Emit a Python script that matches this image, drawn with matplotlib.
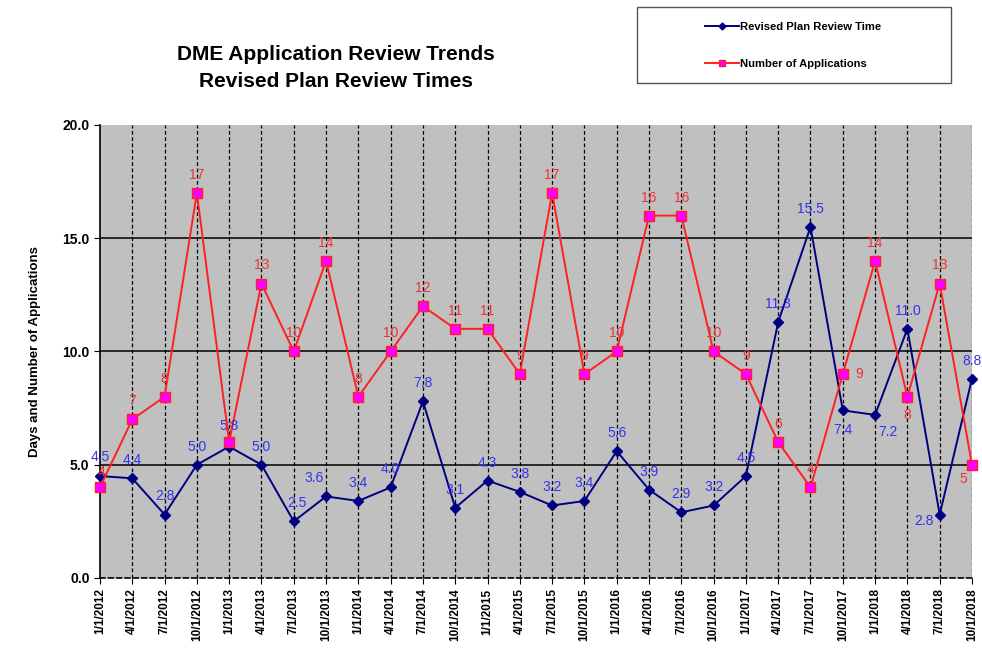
import numpy as np
import matplotlib
matplotlib.use('Agg')
import matplotlib.pyplot as plt
from matplotlib.patches import Rectangle

plt.rcParams['font.family'] = ['Liberation Sans', 'DejaVu Sans']

dates = ['1/1/2012', '4/1/2012', '7/1/2012', '10/1/2012',
         '1/1/2013', '4/1/2013', '7/1/2013', '10/1/2013',
         '1/1/2014', '4/1/2014', '7/1/2014', '10/1/2014',
         '1/1/2015', '4/1/2015', '7/1/2015', '10/1/2015',
         '1/1/2016', '4/1/2016', '7/1/2016', '10/1/2016',
         '1/1/2017', '4/1/2017', '7/1/2017', '10/1/2017',
         '1/1/2018', '4/1/2018', '7/1/2018', '10/1/2018']
review_time = [4.5, 4.4, 2.8, 5.0, 5.8, 5.0, 2.5, 3.6, 3.4, 4.0, 7.8, 3.1, 4.3, 3.8,
               3.2, 3.4, 5.6, 3.9, 2.9, 3.2, 4.5, 11.3, 15.5, 7.4, 7.2, 11.0, 2.8, 8.8]
applications = [4, 7, 8, 17, 6, 13, 10, 14, 8, 10, 12, 11, 11, 9,
                17, 9, 10, 16, 16, 10, 9, 6, 4, 9, 14, 8, 13, 5]

# label offsets in points (default: above the marker)
blue_off = {0: (0, 14), 4: (0, 15), 6: (2, 13), 7: (-9, 13), 23: (0, -14),
            24: (9, -12), 26: (-11, -5)}
red_off = {0: (1, 11), 4: (-1, 10), 23: (12, 0), 25: (0, -13), 27: (-6, -10)}

x = np.arange(len(dates))

fig = plt.figure(figsize=(9.82, 6.53), dpi=100)
ax = fig.add_axes([0.1018, 0.1149, 0.888, 0.6937])
ax.set_facecolor('#C0C0C0')

ax.set_xlim(0, len(dates) - 1)
ax.set_ylim(0, 20)
ax.set_yticks([0, 5, 10, 15, 20])
ax.set_yticklabels(['%.1f' % v for v in [0, 5, 10, 15, 20]], fontsize=10, fontweight='bold')
ax.set_xticks(x)
ax.set_xticklabels(dates, rotation=90, fontsize=8.5, fontweight='bold')
ax.tick_params(axis='both', direction='out', length=4, color='black')

for xi in x[1:]:
    ax.axvline(xi, color='black', lw=0.9, ls=(0, (3, 2)), zorder=1)
for yv in [5, 10, 15]:
    ax.axhline(yv, color='black', lw=1.1, zorder=1)

for s in ['top', 'right']:
    ax.spines[s].set_visible(False)
ax.spines['left'].set_linewidth(1.2)
ax.spines['bottom'].set_linestyle((0, (3, 2)))
ax.spines['bottom'].set_linewidth(1.2)

ax.plot(x, review_time, color='#000080', lw=1.4, marker='D', ms=5,
        mfc='#000080', mec='#000080', label='Revised Plan Review Time',
        zorder=3, clip_on=False)
ax.plot(x, applications, color='#FF2020', lw=1.4, marker='s', ms=7,
        mfc='#FF00FF', mec='#FF2020', label='Number of Applications',
        zorder=4, clip_on=False)

for i, v in enumerate(review_time):
    dx, dy = blue_off.get(i, (0, 13))
    ax.annotate('%.1f' % v, (x[i], v), xytext=(dx, dy), textcoords='offset points',
                ha='center', va='center', fontsize=10, color='#3333EE', zorder=5)
for i, v in enumerate(applications):
    dx, dy = red_off.get(i, (0, 13))
    ax.annotate('%d' % v, (x[i], v), xytext=(dx, dy), textcoords='offset points',
                ha='center', va='center', fontsize=10, color='#EE3333', zorder=5)

ax.set_ylabel('Days and Number of Applications', fontsize=9.5, fontweight='bold', labelpad=15)

fig.text(0.342, 0.896, 'DME Application Review Trends\nRevised Plan Review Times',
         ha='center', va='center', fontsize=15, fontweight='bold', linespacing=1.55)

# legend box
fig.patches.append(Rectangle((0.649, 0.873), 0.319, 0.116, transform=fig.transFigure,
                             fill=False, edgecolor='#555555', lw=1))
h, l = ax.get_legend_handles_labels()
leg = fig.legend(h, l, loc='center', bbox_to_anchor=(0.808, 0.931), frameon=False,
                 prop={'size': 8.1, 'weight': 'bold'}, labelspacing=2.4,
                 handlelength=3.0, handletextpad=0.1, markerscale=0.7)

fig.savefig('out.png', dpi=100)
